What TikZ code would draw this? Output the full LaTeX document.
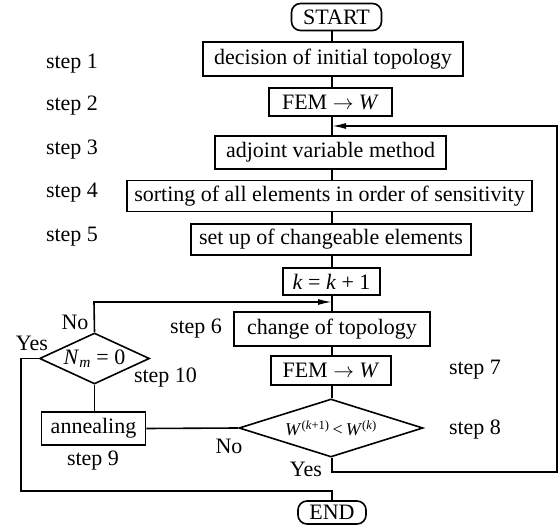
\documentclass[tikz,border=0pt]{standalone}
\usepackage{fontspec}
\setmainfont{Liberation Serif}
\usetikzlibrary{shapes.geometric,arrows.meta}
\begin{document}
\begin{tikzpicture}[x=1pt,y=-1pt,line width=1.6pt,
  font=\fontsize{22}{25}\selectfont,
  box/.style={draw,rectangle,inner sep=0pt,anchor=center},
  term/.style={draw,rounded corners=9pt,inner sep=0pt,anchor=center},
  dec/.style={draw,diamond,inner sep=0pt,anchor=center},
  lab/.style={inner sep=0pt,anchor=center},
  arr/.style={-{Latex[length=14pt,width=6pt]}}]
\useasboundingbox (0,0) rectangle (560,529);
\node[term,minimum width=90pt,minimum height=27pt] (start) at (336.5,17) {START};
\node[box,minimum width=260pt,minimum height=34pt] (b1) at (333,59) {decision of initial topology};
\node[box,minimum width=123pt,minimum height=28pt] (b2) at (330.5,102) {FEM $\rightarrow$ \textit{W}};
\node[box,minimum width=231pt,minimum height=33pt] (b3) at (330.5,152.5) {adjoint variable method};
\node[box,minimum width=405pt,minimum height=31pt] (b4) at (329.5,196) {sorting of all elements in order of sensitivity};
\node[box,minimum width=280pt,minimum height=31pt] (b5) at (331,239.5) {set up of changeable elements};
\node[box,minimum width=97pt,minimum height=27pt] (b6) at (331.5,281.5) {\textit{k} = \textit{k} + 1};
\node[box,minimum width=196pt,minimum height=34pt] (b7) at (332,329) {change of topology};
\node[box,minimum width=120pt,minimum height=29pt] (b8) at (331,370.5) {FEM $\rightarrow$ \textit{W}};
\node[dec,minimum width=184pt,minimum height=58pt,
  label={[lab]center:{\fontsize{18}{20}\selectfont\textit{W}\textsuperscript{(\textit{k}+1)}\,<\,\textit{W}\textsuperscript{(\textit{k})}}}] (d8) at (331,428) {};
\node[dec,minimum width=110pt,minimum height=51pt,
  label={[lab]center:{\textit{N}\textsubscript{\textit{m}} = 0}}] (d10) at (94.5,358.5) {};
\node[box,minimum width=104pt,minimum height=33pt] (ann) at (93.5,428.5) {annealing};
\node[term,minimum width=68pt,minimum height=23pt] (fin) at (332,512.5) {END};
\coordinate (r1) at (557,126);
\coordinate (r2) at (557,472);
\coordinate (y8) at (332,472);
\coordinate (l1) at (94,302);
\coordinate (a1) at (332,302);
\coordinate (a2) at (332,126);
\coordinate (e1) at (21,358.5);
\coordinate (e2) at (21,491);
\coordinate (e3) at (332,491);
% main chain
\draw (start.south -| a2) -- (b1.north -| a2);
\draw (b1.south -| a2) -- (b2.north -| a2);
\draw (b2.south -| a2) -- (b3.north -| a2);
\draw (b3.south -| a2) -- (b4.north -| a2);
\draw (b4.south -| a2) -- (b5.north -| a2);
\draw (b5.south -| a2) -- (b6.north -| a2);
\draw (b6.south -| a2) -- (b7.north -| a2);
\draw (b7.south -| a2) -- (b8.north -| a2);
\draw (b8.south -| a2) -- (d8.north -| a2);
% loop back
\draw[arr] (d8.south -| a2) -- (y8) -- (r2) -- (r1) -- (a2);
% No branch
\draw (d8.west) -- (ann.east);
\draw (ann.north -| d10) -- (d10.south);
\draw[arr] (d10.north) -- (l1) -- (a1);
% Yes to end
\draw (d10.west) -- (e1) -- (e2) -- (e3) -- (fin.north -| e3);
% labels
\node[lab] at (72,64) {step 1};
\node[lab] at (72,106) {step 2};
\node[lab] at (72,150) {step 3};
\node[lab] at (72,193) {step 4};
\node[lab] at (72,237) {step 5};
\node[lab] at (196,329) {step 6};
\node[lab] at (475,370) {step 7};
\node[lab] at (475,430) {step 8};
\node[lab] at (93,461) {step 9};
\node[lab] at (165.5,378) {step 10};
\node[lab] at (75,322) {No};
\node[lab] at (32,343) {Yes};
\node[lab] at (229,446) {No};
\node[lab] at (306,469) {Yes};
\end{tikzpicture}
\end{document}
